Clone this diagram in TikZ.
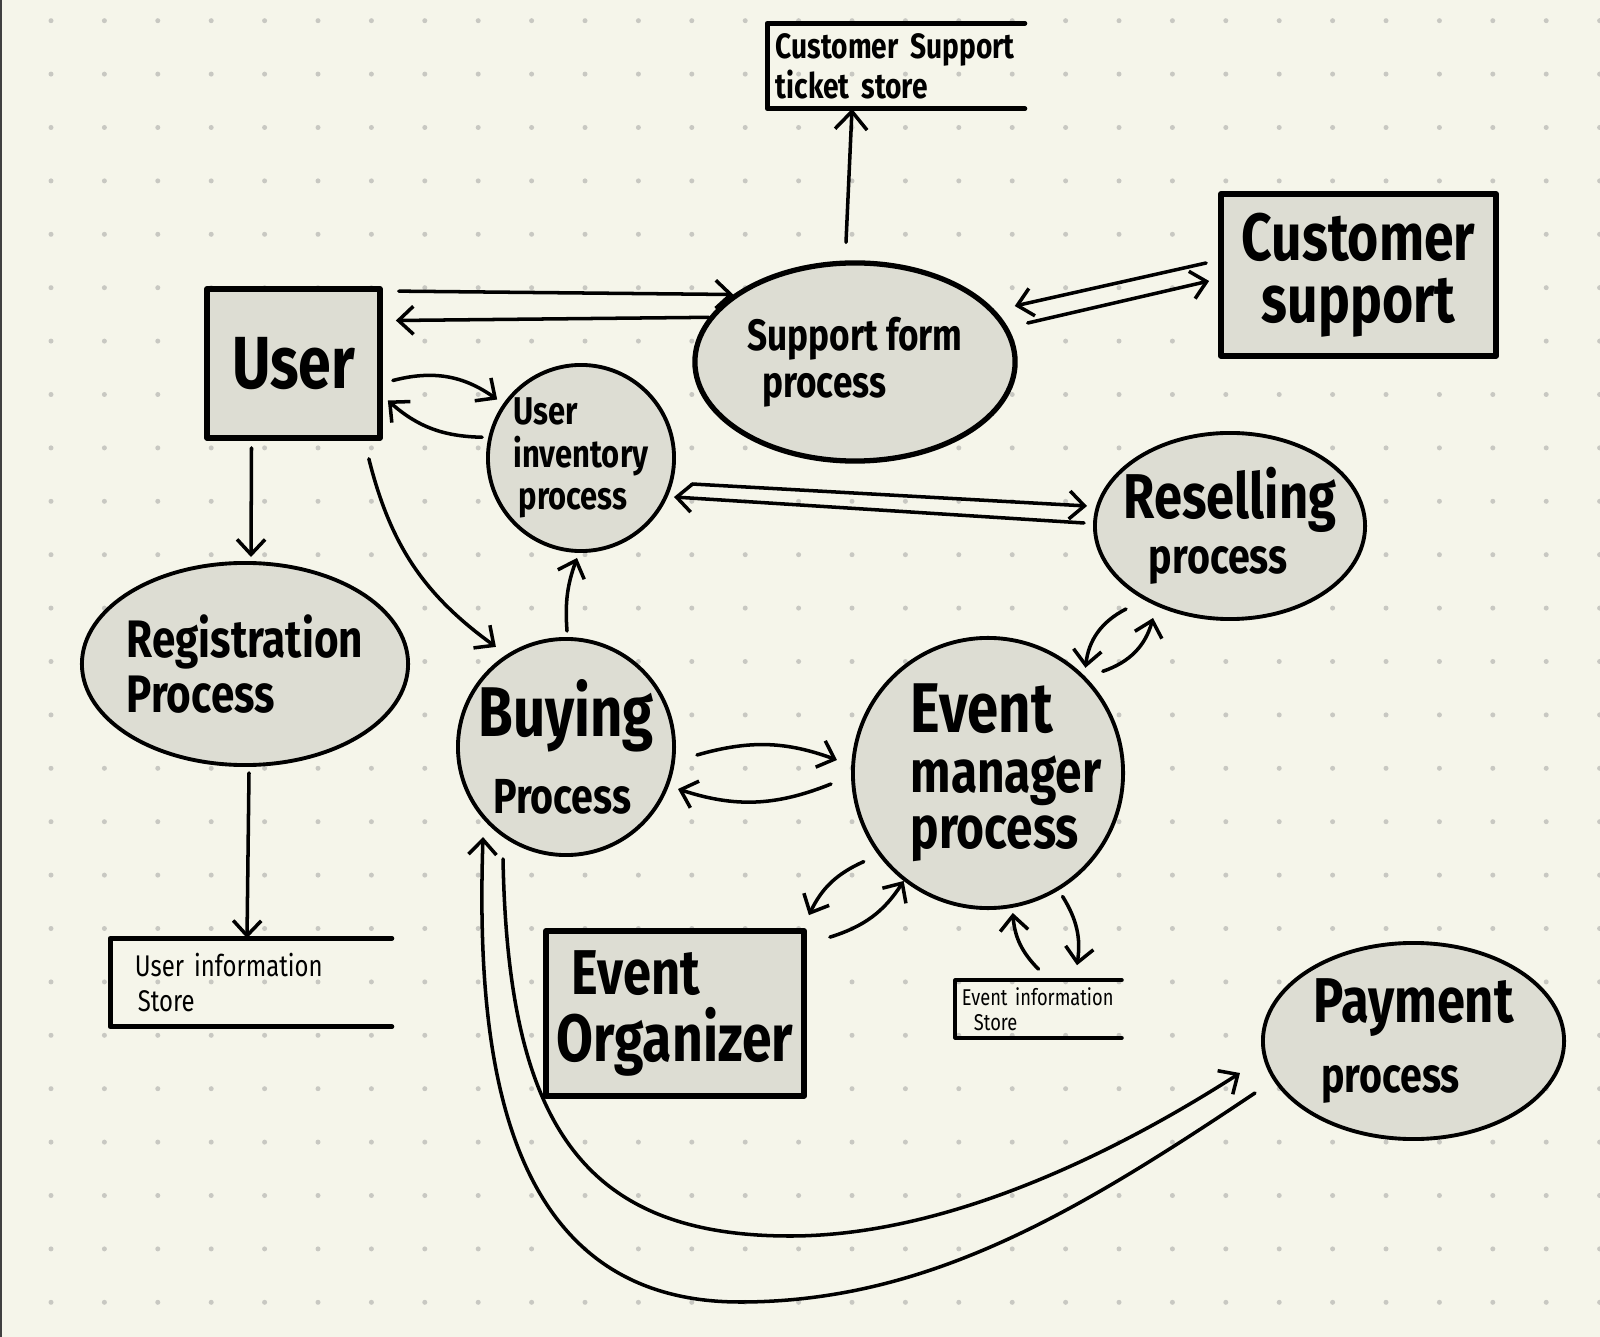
\documentclass[tikz,border=0pt]{standalone}
\usepackage{fontspec}
\setmainfont{Fira Sans}[FakeStretch=0.8]
\usetikzlibrary{calc,arrows.meta,shapes.geometric}
\definecolor{paper}{RGB}{245,245,234}
\definecolor{blob}{RGB}{221,221,211}
\definecolor{dotgray}{RGB}{200,200,194}

\begin{document}
\begin{tikzpicture}[x=0.01cm,y=0.01cm,line width=1pt,line cap=round,line join=round,
  >={Straight Barb[length=1.5mm,width=2.8mm]},
  proc/.style={ellipse,draw,fill=blob,line width=1.1pt,inner sep=-12pt,align=left},
  ent/.style={rectangle,draw,fill=blob,line width=1.6pt,inner sep=0pt,align=left},
  store/.style={rectangle,inner sep=0pt,align=left},
  storeline/.style={line width=1.4pt},
  flow/.style={->}]
  % ===== paper =====
  \useasboundingbox (0,0) rectangle (1600,-1337);
  \fill[paper] (0,0) rectangle (1600,-1337);
  \foreach \i in {0,...,29}
    \foreach \j in {0,...,24}
      \fill[dotgray] (51+53.4*\i,-20.7-53.4*\j) circle (2.5);
  \draw[line width=0.6pt,black!75] (1,0) -- (1,-1337);

  % ===== entities =====
  \node[ent,minimum width=1.73cm,minimum height=1.49cm,font=\bfseries\fontsize{21}{24}\selectfont] (user) at (293.5,-363.5) {User};
  \node[ent,minimum width=2.75cm,minimum height=1.62cm,font=\bfseries\fontsize{19}{17.5}\selectfont] (cs) at (1358.5,-275) {Customer\\\hspace*{0.2cm}support};
  \node[ent,minimum width=2.58cm,minimum height=1.65cm,font=\bfseries\fontsize{19}{19}\selectfont] (org) at (675,-1013.5) {\hspace*{0.15cm}{\fontsize{18}{18}\selectfont Event}\\Organizer};

  % ===== processes =====
  \node[proc,line width=1.5pt,minimum width=3.2cm,minimum height=1.98cm,font=\bfseries\fontsize{12.5}{13.5}\selectfont] (sfp) at (855,-362) {Support form\\\hspace*{0.15cm}process};
  \node[proc,minimum width=1.86cm,minimum height=1.86cm,font=\bfseries\fontsize{11}{12}\selectfont] (inv) at (581,-458) {User\\inventory\\\hspace*{0.05cm}process};
  \node[proc,minimum width=2.7cm,minimum height=1.86cm,font=\bfseries\fontsize{18}{15.5}\selectfont] (res) at (1230,-526) {Reselling\\\hspace*{0.25cm}{\fontsize{14}{14}\selectfont process}};
  \node[proc,minimum width=3.26cm,minimum height=2.02cm,font=\bfseries\fontsize{15}{15.5}\selectfont] (reg) at (245,-664) {Registration\\Process};
  \node[proc,minimum width=2.16cm,minimum height=2.16cm,font=\bfseries\fontsize{20}{22}\selectfont] (buy) at (566,-747) {Buying\\\hspace*{0.15cm}{\fontsize{14}{14}\selectfont Process}};
  \node[proc,minimum width=2.7cm,minimum height=2.7cm,font=\bfseries\fontsize{17}{16}\selectfont] (evm) at (988,-773) {\hspace*{0.36cm}{\fontsize{20}{20}\selectfont Event}\\[1pt]\hspace*{0.36cm}manager\\\hspace*{0.36cm}process};
  \node[proc,minimum width=3.01cm,minimum height=1.96cm,font=\bfseries\fontsize{18}{20}\selectfont] (pay) at (1413.5,-1041) {Payment\\\hspace*{0.08cm}{\fontsize{14}{14}\selectfont process}};

  % ===== data stores =====
  \node[store,minimum width=2.54cm,minimum height=0.82cm,text width=2.4cm,font=\bfseries\fontsize{10}{10}\selectfont] (tick) at (896,-66) {Customer Support\\ticket store};
  \node[store,minimum width=2.78cm,minimum height=0.85cm,text width=2.32cm,font=\fontsize{8.5}{9.7}\selectfont] (uis) at (251,-982.5) {User information\\\hspace*{0.03cm}Store};
  \node[store,minimum width=1.63cm,minimum height=0.54cm,text width=1.53cm,font=\fontsize{6.5}{7}\selectfont] (eis) at (1038.5,-1009) {Event information\\\hspace*{0.12cm}Store};
  \draw[storeline] (tick.north east) -- (tick.north west) -- (tick.south west) -- (tick.south east);
  \draw[storeline] (uis.north east) -- (uis.north west) -- (uis.south west) -- (uis.south east);
  \draw[storeline,line width=1.1pt] (eis.north east) -- (eis.north west) -- (eis.south west) -- (eis.south east);

  % ===== flows =====
  % support form -> ticket store
  \draw[flow,>={Straight Barb[length=1.8mm,width=3.2mm]}] ([shift={(-9,18)}]sfp.north) -- ([shift={(-44,0)}]tick.south);
  % user <-> support form
  \draw[flow] ([shift={(16,-5)}]user.north east) -- (sfp.151);
  \draw[flow] (sfp.163) -- ([shift={(13,43)}]user.east);
  % support form <-> customer support
  \draw[flow] ([shift={(-12,12)}]cs.west) -- ([shift={(-3,56)}]sfp.east);
  \draw[flow] ([shift={(10,39)}]sfp.east) -- ([shift={(-9,-6)}]cs.west);
  % user <-> inventory
  \draw[flow] ([shift={(10,-17)}]user.east) to[bend left=25] ([shift={(-6,4)}]inv.145);
  \draw[flow] ([shift={(-6,1)}]inv.168) to[bend left=20] ([shift={(5,-37)}]user.east);
  % user -> registration, user -> buying
  \draw[flow] ([shift={(-42,-7)}]user.south) -- ([shift={(6,4)}]reg.north);
  \draw[flow] ([shift={(-14,-18)}]user.south east) to[bend right=20] ([shift={(-7,10)}]buy.125);
  % buying -> inventory
  \draw[flow] ([shift={(1,6)}]buy.north) to[bend left=12] ([shift={(-4,-5)}]inv.south);
  % inventory <-> reselling
  \draw[flow] ([shift={(16,-26)}]inv.east) -- ([shift={(-6,20)}]res.west);
  \draw[flow] ([shift={(-9,3)}]res.west) -- ([shift={(-2,-39)}]inv.east);
  % reselling <-> event manager
  \draw[flow] ([shift={(-104,-83)}]res.center) to[bend right=28] ([shift={(4,5)}]evm.47);
  \draw[flow] ([shift={(13,10)}]evm.42) to[bend right=28] ([shift={(-77,-92)}]res.center);
  % buying <-> event manager
  \draw[flow] ([shift={(21,-8)}]buy.east) to[bend left=18] ([shift={(-14,13)}]evm.west);
  \draw[flow] ([shift={(-20,-11)}]evm.west) to[bend left=20] ([shift={(2,-42)}]buy.east);
  % event manager <-> organizer
  \draw[flow] ([shift={(-12,-10)}]evm.215) to[bend right=20] ([shift={(2,13)}]org.north east);
  \draw[flow] ([shift={(23,-9)}]org.north east) to[bend right=20] (evm.232);
  % event manager <-> event store
  \draw[flow] ([shift={(0,11)}]eis.north) to[bend left=20] ([shift={(1,-5)}]evm.280);
  \draw[flow] ([shift={(4,-6)}]evm.301) to[bend left=20] ([shift={(38.5,15)}]eis.north);
  % registration -> user store
  \draw[flow] ([shift={(4,-6)}]reg.south) -- ([shift={(-4,0)}]uis.north);
  % buying <-> payment
  \draw[flow] ([shift={(-63,-2)}]buy.south) .. controls (508,-1120) and (580,-1236) .. (790,-1236)
    .. controls (950,-1236) and (1120,-1150) .. ([shift={(-21,-32)}]pay.west);
  \draw[flow] ([shift={(-6,-52)}]pay.west) .. controls (1080,-1210) and (930,-1302) .. (740,-1302)
    .. controls (500,-1302) and (476,-1050) .. ([shift={(-83,20)}]buy.south);
\end{tikzpicture}
\end{document}
